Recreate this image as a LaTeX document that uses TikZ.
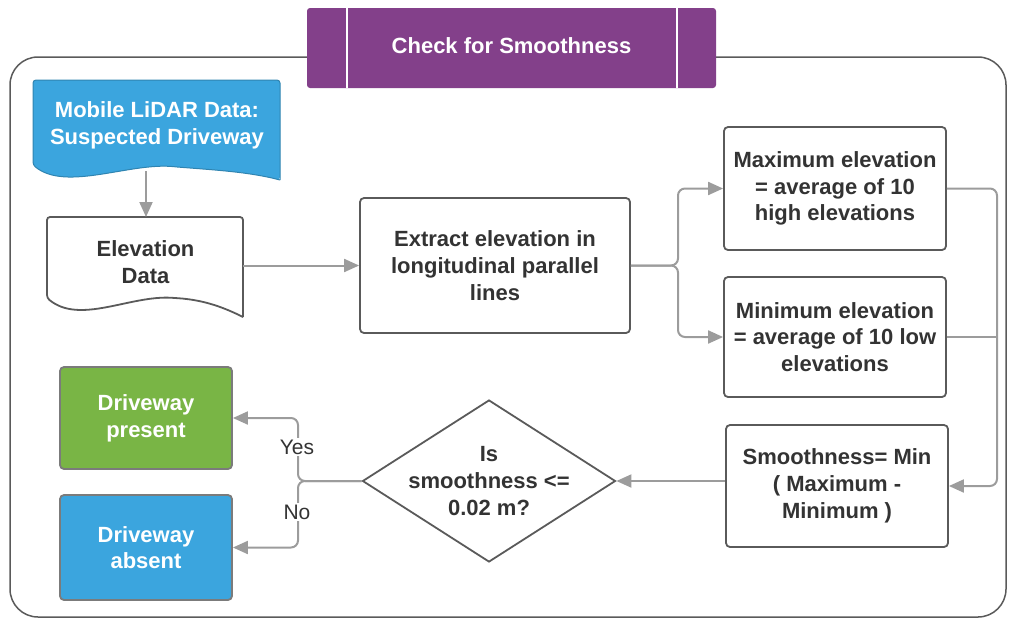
\documentclass[tikz,border=0pt]{standalone}
\usepackage{fontspec}
\setmainfont{Liberation Sans}
\usetikzlibrary{arrows.meta,shapes.geometric}

\definecolor{purp}{HTML}{83408A}
\definecolor{skyb}{HTML}{3BA5DE}
\definecolor{leaf}{HTML}{79B545}
\definecolor{wire}{HTML}{9C9C9C}
\definecolor{rim}{HTML}{5A5A5A}
\definecolor{ink}{HTML}{333333}

\tikzset{
  box/.style={draw=rim, line width=1.8pt, rounded corners=4pt, fill=white,
    align=center, text=ink, inner sep=0pt,
    font=\fontsize{22}{26.7}\selectfont\bfseries},
  colbox/.style={box, text=white, draw=rim!80},
  txt/.style={align=center, inner sep=0pt,
    font=\fontsize{22}{26.7}\selectfont\bfseries},
  conn/.style={draw=wire, line width=2pt, rounded corners=7pt,
    -{Triangle[length=15pt,width=13pt]}},
  plain/.style={draw=wire, line width=2pt, rounded corners=7pt},
  doc/.style={draw=rim, line width=1.8pt, rounded corners=3pt},
  tag/.style={fill=white, inner sep=2pt, text=ink, font=\fontsize{21}{24}\selectfont},
}

\begin{document}
\begin{tikzpicture}[x=1pt,y=-1pt]
\useasboundingbox (0,0) rectangle (1009,619);

% outer frame around the whole procedure
\draw[rim, line width=1.5pt, rounded corners=28pt]
  (716,57) -| (1006,617) -| (10,57) -- (307,57);

% title banner
\fill[purp, rounded corners=3pt] (307,8) rectangle (716,88);
\draw[white, line width=2pt] (347,8) -- (347,88) (677,8) -- (677,88);
\node[txt, text=white] (title) at (511.5,46) {Check for Smoothness};

% input document (blue)
\fill[skyb, rounded corners=3pt] (280,180) -- (280,80) -- (33,80) -- (33,165)
  .. controls (66,192) and (130,162) .. (177,167)
  .. controls (215,170) and (250,172) .. (280,180) -- cycle;
\draw[skyb!80!black, line width=1pt, rounded corners=3pt] (280,180) -- (280,80) -- (33,80) -- (33,165)
  .. controls (66,192) and (130,162) .. (177,167)
  .. controls (215,170) and (250,172) .. (280,180);
\node[txt, text=white] (lidar) at (157,125) {Mobile LiDAR Data:\\Suspected Driveway};
\coordinate (lidarfoot) at (146,171);

% elevation document
\draw[doc, fill=white] (243,317) -- (243,217) -- (47,217) -- (47,298)
  .. controls (80,325) and (130,295) .. (175,298)
  .. controls (205,300) and (225,308) .. (243,317);
\node[txt, text=ink] (elev) at (145.5,262) {Elevation\\Data};
\coordinate (elevtop) at (146,217);
\coordinate (elevright) at (243,265.5);

% processing boxes
\node[box, minimum width=270pt, minimum height=135pt] (extract) at (495,265.5)
  {Extract elevation in\\longitudinal parallel\\lines};
\node[box, minimum width=222pt, minimum height=123pt] (maxb) at (835,188.5)
  {Maximum elevation\\= average of 10\\high elevations};
\node[box, minimum width=222pt, minimum height=120pt] (minb) at (835,337)
  {Minimum elevation\\= average of 10 low\\elevations};
\node[box, minimum width=222pt, minimum height=122pt] (smooth) at (837,486)
  {Smoothness= Min\\( Maximum -\\Minimum )};

% decision: fixed-size diamond with its question set on top
\node[draw=rim, line width=1.8pt, diamond, minimum width=253pt,
  minimum height=162pt, inner sep=0pt] (decide) at (489,481) {};
\node[txt, text=ink] (question) at (decide.center) {Is\\smoothness <=\\0.02 m?};

% outcomes
\node[colbox, fill=leaf, minimum width=172pt, minimum height=102pt] (present) at (146,418)
  {Driveway\\present};
\node[colbox, fill=skyb, minimum width=172pt, minimum height=105pt] (absent) at (146,547.5)
  {Driveway\\absent};

% connectors
\draw[conn] (lidarfoot) -- (elevtop);
\draw[conn] (elevright) -- (extract.west);
\coordinate (split) at (678,265.5);
\draw[conn] (extract.east) -- (split) |- (maxb.west);
\draw[conn] (extract.east) -- (split) |- (minb.west);
\coordinate (merge) at (997,337);
\draw[conn] (maxb.east) -| (merge) |- (smooth.east);
\draw[plain] (minb.east) -- (merge);
\draw[conn] (smooth.west |- decide.east) -- (decide.east);
\coordinate (fork) at (298,481);
\draw[conn] (decide.west) -- (fork) |- (present.east);
\draw[conn] (decide.west) -- (fork) |- (absent.east);

% branch labels
\node[tag] (yes) at (297,447) {Yes};
\node[tag] (no) at (297,512) {No};
\end{tikzpicture}
\end{document}
